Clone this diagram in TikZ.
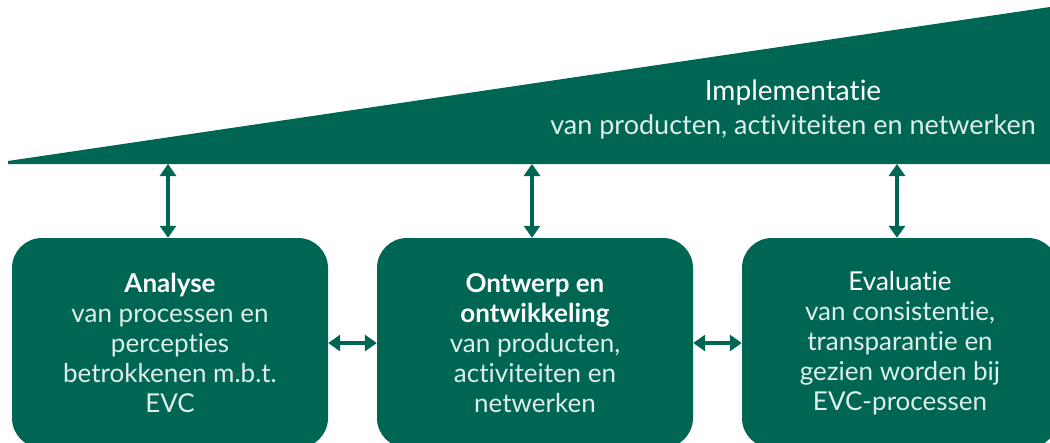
\documentclass[tikz,border=0pt]{standalone}
\usepackage{fontspec}
\setmainfont{Lato}[RawFeature={-liga;-clig;-dlig}]
\usetikzlibrary{arrows.meta}
\definecolor{evcgreen}{RGB}{0,102,84}
\definecolor{evclight}{RGB}{222,238,232}
\begin{document}
\begin{tikzpicture}[x=1pt,y=-1pt,
  box/.style={fill=evcgreen, rounded corners=30pt, minimum width=316pt, minimum height=210pt,
    inner sep=0pt, align=center, text=evclight, font=\fontsize{26}{30}\selectfont},
  link/.style={evcgreen, line width=3.5pt, {Triangle[length=12pt,width=16pt]}-{Triangle[length=12pt,width=16pt]}}]
\useasboundingbox (0,0) rectangle (1050,442);
\clip (0,0) rectangle (1050,442);
% implementation wedge
\fill[evcgreen] (8,161) -- (1050,7) -- (1050,164) -- (8,164) -- cycle;
\node[align=center, text=evclight, font=\fontsize{27}{34}\selectfont] (impl) at (793,110)
  {{\color{white}\fontsize{28}{34}\selectfont Implementatie}\\van producten, activiteiten en netwerken};
\coordinate (t1) at (168,164);
\coordinate (t2) at (532,164);
\coordinate (t3) at (897,164);
% boxes
\node[box] (a) at (170,343) {{\color{white}\bfseries Analyse}\\van processen en\\percepties\\betrokkenen m.b.t.\\EVC};
\node[box] (b) at (535,343) {{\color{white}\bfseries Ontwerp en}\\{\color{white}\bfseries ontwikkeling}\\van producten,\\activiteiten en\\netwerken};
\node[box] (c) at (900,343) {{\color{white}Evaluatie}\\van consistentie,\\transparantie en\\gezien worden bij\\EVC-processen};
% connectors
\draw[link] (t1) -- (t1 |- a.north);
\draw[link] (t2) -- (t2 |- b.north);
\draw[link] (t3) -- (t3 |- c.north);
\draw[link] (a) -- (b);
\draw[link] (b) -- (c);
\end{tikzpicture}
\end{document}
